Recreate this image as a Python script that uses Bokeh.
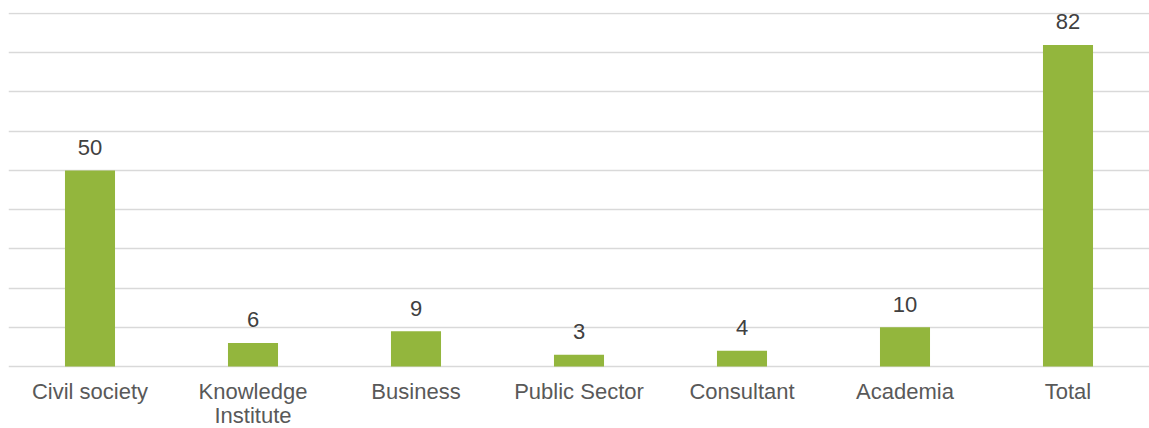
from bokeh.plotting import figure
from bokeh.models import ColumnDataSource, FixedTicker, Range1d, FactorRange, Grid
from bokeh.embed import file_html
from bokeh.resources import INLINE
from bokeh.core.properties import value

categories = ["Civil society", "Knowledge\nInstitute", "Business", "Public Sector",
              "Consultant", "Academia", "Total"]
counts = [50, 6, 9, 3, 4, 10, 82]
y_ticks = [0, 10, 20, 30, 40, 50, 60, 70, 80, 90]

src = ColumnDataSource(dict(cat=categories, val=counts, lab=[str(v) for v in counts],
                            base=[0] * len(categories)))

p = figure(x_range=FactorRange(*categories, range_padding=0), y_range=Range1d(-15.81, 90.26),
           width=1149, height=428, output_backend="svg", toolbar_location=None,
           x_axis_location=None, y_axis_location=None,
           min_border_left=8, min_border_right=0, min_border_top=12, min_border_bottom=0)
p.outline_line_color = None
p.background_fill_color = "white"
p.border_fill_color = "white"
for g in p.grid:
    g.visible = False

grid = Grid(dimension=1, ticker=FixedTicker(ticks=y_ticks),
            grid_line_color="#d9d9d9", grid_line_width=1.5)
p.add_layout(grid)

p.vbar(x="cat", top="val", width=0.307, source=src, color="#93b63d", line_color=None)
p.text(x="cat", y="val", text="lab", source=src, text_align="center", text_baseline="alphabetic",
       y_offset=-23, text_font=value("Liberation Sans"), text_font_size="22px", text_color="#404040")
p.text(x="cat", y="base", text="cat", source=src, text_align="center", text_baseline="top",
       y_offset=13, text_font=value("Liberation Sans"), text_font_size="22px", text_color="#595959",
       text_line_height=0.94)

open("out.html", "w").write(file_html(p, INLINE))
